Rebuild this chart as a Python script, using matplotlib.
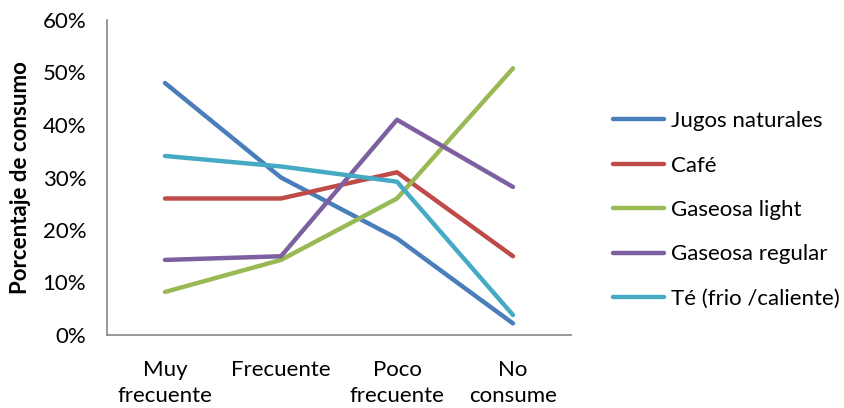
import matplotlib
matplotlib.use("Agg")
import matplotlib.pyplot as plt
from matplotlib.ticker import PercentFormatter

categories = ["Muy\nfrecuente", "Frecuente", "Poco\nfrecuente", "No\nconsume"]
jugos = [48, 30, 18.4, 2.2]
cafe = [26, 26, 31, 15]
light = [8.2, 14.3, 26, 50.8]
regular = [14.3, 15, 41, 28.2]
te = [34.1, 32.1, 29.2, 3.8]

series = [
    ("Jugos naturales", jugos, "#4A7EBB"),
    ("Café", cafe, "#BE4B48"),
    ("Gaseosa light", light, "#98B954"),
    ("Gaseosa regular", regular, "#7D60A0"),
    ("Té (frio /caliente)", te, "#46AAC5"),
]

plt.rcParams["font.family"] = ["Lato", "DejaVu Sans"]
FS = 16

fig = plt.figure(figsize=(8.45, 4.08), dpi=100)
ax = fig.add_axes([107 / 845, 1 - 335 / 408, 464 / 845, 315 / 408])

x = [i + 0.5 for i in range(len(categories))]
for name, vals, color in series:
    ax.plot(x, vals, color=color, linewidth=3.2, label=name, solid_capstyle="round")

ax.set_xlim(0, 4)
ax.set_ylim(0, 60)
ax.set_yticks(range(0, 61, 10))
ax.yaxis.set_major_formatter(PercentFormatter(decimals=0))
ax.set_xticks(x)
ax.set_xticklabels(categories, fontsize=FS, linespacing=1.35)
ax.tick_params(axis="y", labelsize=FS, length=0, pad=15)
ax.tick_params(axis="x", length=0, pad=18)
ax.set_ylabel("Porcentaje de consumo", fontsize=FS, fontweight="bold", labelpad=8)

for side in ["top", "right"]:
    ax.spines[side].set_visible(False)
for side in ["left", "bottom"]:
    ax.spines[side].set_color("#868686")
    ax.spines[side].set_linewidth(1.2)

ax.legend(loc="center left", bbox_to_anchor=((613 - 107) / 464, (335 - 210) / 315),
          frameon=False, fontsize=FS, handlelength=2.3, handletextpad=0.3,
          labelspacing=1.1, borderpad=0, borderaxespad=0)

fig.savefig("out.png", dpi=100)
